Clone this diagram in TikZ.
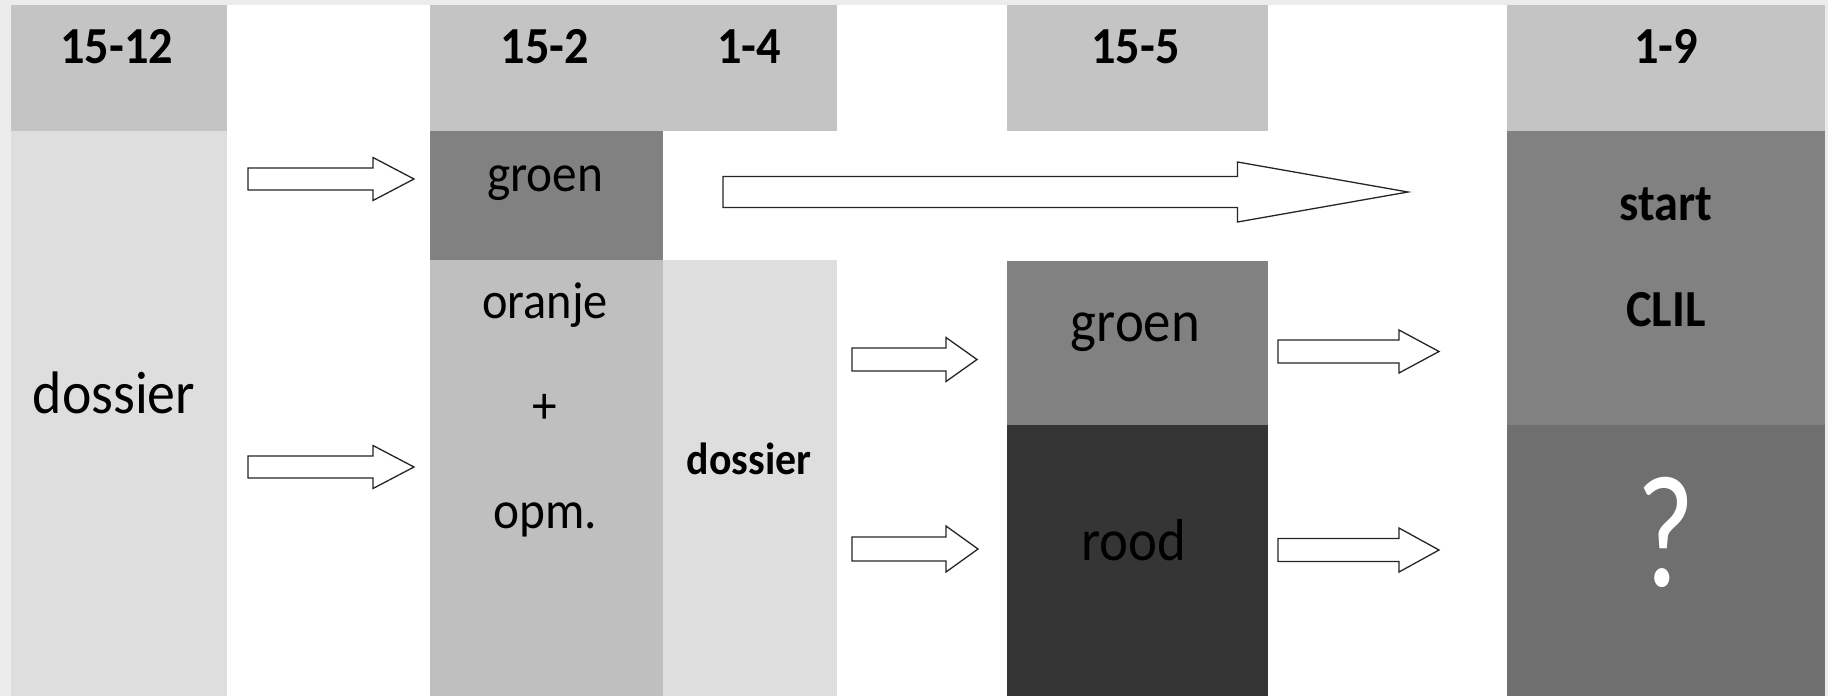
\documentclass[tikz,border=0pt]{standalone}
\usepackage{fontspec}
\setmainfont{Carlito}
\definecolor{frameg}{RGB}{236,236,236}
\definecolor{headg}{RGB}{196,196,196}
\definecolor{lightg}{RGB}{222,222,222}
\definecolor{midg}{RGB}{191,191,191}
\definecolor{greeng}{RGB}{129,129,129}
\definecolor{redg}{RGB}{53,53,53}
\definecolor{qg}{RGB}{111,111,111}
\tikzset{
  lbl/.style={anchor=base, inner sep=0pt, text=black, xscale=0.93},
  hdr/.style={lbl, font=\fontsize{52}{52}\selectfont\bfseries},
  big/.style={lbl, font=\fontsize{53}{53}\selectfont},
  arr/.style={draw=black!85, fill=white, line width=1.3pt, line join=miter},
}
\newcommand\blockarr[7]{% name, x1, x2, xh, yc, half shaft, half head
  \draw[arr] (#2,#5-#6) -- (#4,#5-#6) -- (#4,#5-#7) -- (#3,#5) -- (#4,#5+#7) -- (#4,#5+#6) -- (#2,#5+#6) -- cycle;
  \coordinate (#1) at (#3,#5);
}
\begin{document}
\begin{tikzpicture}[x=1pt,y=-1pt]
\useasboundingbox (0,0) rectangle (1828,696);
\fill[frameg] (0,0) rectangle (1828,696);
\fill[white] (10.5,5.3) rectangle (1824.5,696);
% column 15-12
\fill[headg] (10.5,5.3) rectangle (227.3,131);
\fill[lightg] (10.5,131) rectangle (227.3,696);
% column 15-2 / 1-4
\fill[headg] (430,5.3) rectangle (836.5,131);
\fill[greeng] (430,131) rectangle (663,260);
\fill[midg] (430,260) rectangle (663,696);
\fill[lightg] (663,260) rectangle (836.5,696);
% column 15-5
\fill[headg] (1007,5.3) rectangle (1268,131);
\fill[greeng] (1007,260.7) rectangle (1268,424.7);
\fill[redg] (1007,424.7) rectangle (1268,696);
% column 1-9
\fill[headg] (1507.4,5.3) rectangle (1824.5,131);
\fill[greeng] (1507.4,131) rectangle (1824.5,424.7);
\fill[qg] (1507.4,424.7) rectangle (1824.5,696);

% headers
\node[hdr] (h1) at (116.6,63.3) {15-12};
\node[hdr] (h2) at (545,63.3) {15-2};
\node[hdr] (h3) at (749,63.3) {1-4};
\node[hdr] (h4) at (1135.5,63.3) {15-5};
\node[hdr] (h5) at (1666,63.3) {1-9};

% texts
\node[lbl, font=\fontsize{60}{60}\selectfont] (dos1) at (114,413) {dossier};
\node[big] (groen2) at (545,191.7) {groen};
\node[big, font=\fontsize{52}{52}\selectfont] (oranje) at (545,318.3) {oranje};
\node[big] (plus) at (545,423.2) {+};
\node[big] (opm) at (545,528) {opm.};
\node[lbl, font=\fontsize{45}{45}\selectfont\bfseries] (dos2) at (749,474.7) {dossier};
\node[lbl, font=\fontsize{59}{59}\selectfont] (groen3) at (1135.5,341) {groen};
\node[lbl, font=\fontsize{59}{59}\selectfont] (rood) at (1134,560) {rood};
\node[hdr] (start) at (1666,220) {start};
\node[hdr] (clil) at (1666,326.7) {CLIL};
\node[lbl, text=white, xscale=0.85, font=\fontsize{160}{160}\selectfont] (q) at (1666,586) {?};

% arrows
\blockarr{a1}{248}{414}{373}{179}{11}{21.5}
\blockarr{a2}{248}{414}{373}{467}{11}{21.5}
\blockarr{along}{723}{1408}{1237.5}{192}{15.5}{30}
\blockarr{a3}{852}{977}{946}{359.5}{11.5}{22}
\blockarr{a4}{852}{978}{946}{549}{12}{23}
\blockarr{a5}{1278}{1439}{1399}{351.5}{11.5}{21.5}
\blockarr{a6}{1278}{1439}{1399}{550}{11.5}{22}
\end{tikzpicture}
\end{document}
